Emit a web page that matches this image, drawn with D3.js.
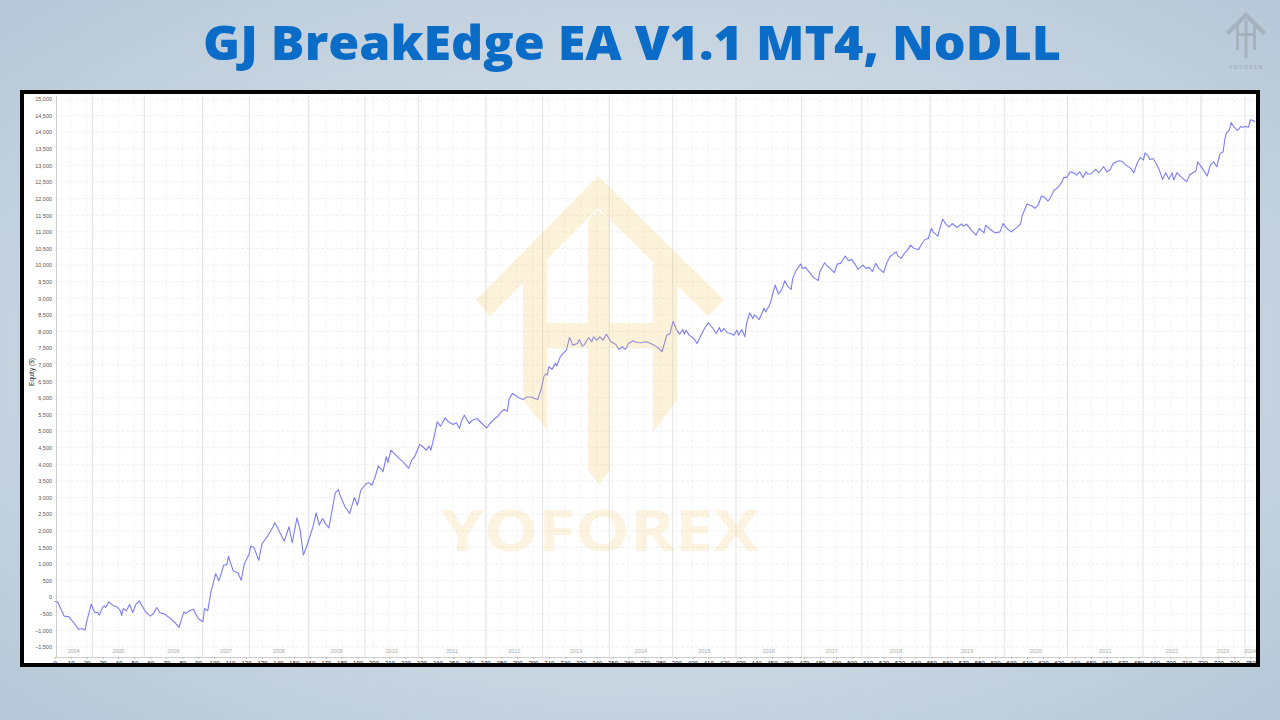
<!DOCTYPE html>
<html><head><meta charset="utf-8">
<script src="https://cdn.jsdelivr.net/npm/d3@7"></script>
<style>html,body{margin:0;padding:0;width:1280px;height:720px;overflow:hidden;background:#d5dee7}</style>
</head><body><svg id="c" width="1280" height="720"></svg>
<script>
// ---------- DATA ----------
const titleText = "GJ BreakEdge EA V1.1 MT4, NoDLL";
const yAxisLabel = "Equity ($)";
const equityPoints = [[0,-120],[2,-150],[4,-370],[6,-570],[9,-590],[12,-770],[15,-970],[17,-940],[19,-990],[20,-740],[23,-210],[25,-460],[27,-460],[28,-540],[30,-310],[31,-260],[32,-310],[34,-140],[37,-260],[39,-290],[40,-340],[41,-390],[42,-550],[43,-340],[45,-410],[47,-220],[49,-460],[51,-210],[53,-110],[57,-440],[60,-570],[62,-490],[64,-310],[66,-470],[69,-510],[72,-620],[75,-740],[78,-910],[81,-440],[82,-490],[84,-420],[87,-360],[90,-640],[93,-740],[94,-340],[96,-410],[98,160],[101,710],[103,490],[106,960],[108,980],[109,1230],[112,790],[115,730],[117,510],[119,1010],[122,1300],[123,1540],[125,1500],[128,1110],[130,1600],[131,1670],[134,1870],[137,2120],[138,2250],[141,1970],[144,1690],[147,2120],[149,1640],[152,2390],[154,2020],[156,1270],[158,1520],[160,1820],[162,2120],[164,2540],[166,2170],[168,2370],[170,2200],[172,2090],[174,2620],[176,3140],[178,3240],[179,3070],[182,2740],[185,2520],[188,3000],[190,2770],[192,3220],[195,3400],[197,3450],[199,3370],[201,3620],[203,3950],[206,3780],[208,4230],[209,4050],[211,4430],[214,4280],[216,4180],[219,4050],[222,3880],[224,4130],[226,4250],[229,4600],[231,4530],[233,4430],[235,4550],[236,4430],[238,4830],[240,5280],[242,5150],[245,5400],[247,5280],[250,5200],[252,5250],[254,5080],[255,5280],[257,5480],[260,5230],[262,5330],[265,5380],[268,5230],[271,5100],[273,5230],[276,5380],[278,5450],[280,5580],[282,5650],[284,5600],[285,5950],[287,6130],[289,6080],[292,5980],[294,5950],[296,6030],[299,6030],[301,5980],[303,5950],[305,6230],[307,6660],[308,6720],[309,6690],[310,6940],[312,6860],[314,7040],[315,6960],[317,7220],[319,7340],[321,7440],[323,7820],[325,7590],[328,7640],[329,7760],[331,7560],[332,7590],[335,7820],[337,7690],[338,7840],[340,7740],[342,7840],[344,7740],[346,7920],[349,7690],[352,7610],[354,7460],[356,7540],[358,7460],[360,7640],[363,7720],[365,7670],[368,7660],[371,7690],[374,7640],[377,7560],[379,7490],[381,7390],[384,7890],[386,7940],[388,8310],[390,8060],[392,7920],[394,8060],[395,7920],[396,8040],[398,7890],[401,7790],[403,7640],[406,7940],[408,8120],[410,8260],[413,8090],[415,7940],[417,8120],[418,7990],[420,8090],[422,7960],[424,7940],[426,7890],[428,8040],[429,7890],[431,8060],[433,7840],[434,8240],[436,8560],[438,8390],[439,8500],[442,8360],[445,8700],[446,8590],[448,8750],[449,8870],[452,9400],[454,9130],[456,9250],[458,9530],[460,9350],[462,9270],[463,9600],[465,9830],[468,10030],[469,9900],[471,9930],[474,9750],[476,9630],[479,9530],[480,9800],[483,10070],[484,10000],[486,9920],[489,9770],[491,10030],[493,10050],[494,10130],[496,10270],[498,10130],[500,10170],[502,10030],[504,9870],[507,10000],[509,9900],[511,9930],[513,9800],[515,10050],[517,9900],[520,9770],[522,10070],[524,10250],[526,10330],[527,10370],[528,10400],[529,10270],[531,10200],[533,10350],[535,10450],[537,10600],[539,10500],[542,10470],[544,10650],[546,10770],[548,10800],[550,11100],[551,11000],[554,10870],[557,11380],[559,11240],[561,11150],[563,11250],[566,11130],[569,11240],[570,11170],[572,11230],[575,11050],[578,10900],[580,11100],[583,10970],[584,11200],[587,11070],[590,10970],[593,11000],[595,11250],[597,11120],[600,11000],[604,11150],[606,11250],[607,11500],[610,11840],[613,11780],[615,11710],[617,11810],[619,12080],[621,12040],[623,11930],[624,11970],[627,12260],[628,12280],[630,12380],[632,12510],[633,12640],[635,12640],[637,12810],[640,12760],[641,12710],[643,12810],[645,12640],[647,12810],[648,12740],[650,12740],[653,12880],[655,12780],[658,12960],[660,12810],[662,12860],[664,13060],[666,13110],[668,13140],[670,13110],[672,13010],[675,12910],[677,12780],[679,13060],[681,13240],[683,13160],[684,13380],[686,13280],[687,13180],[689,13210],[691,13060],[693,12860],[695,12580],[697,12780],[699,12580],[701,12780],[702,12560],[704,12780],[707,12640],[710,12510],[712,12710],[714,12780],[716,12840],[717,13110],[720,12910],[723,12680],[725,13010],[727,13110],[729,12960],[731,13340],[733,13410],[734,13770],[735,13970],[737,14070],[738,14290],[740,14150],[742,14050],[744,14170],[745,14150],[747,14170],[749,14150],[750,14370],[752,14350],[753,14300]];
const yearLabels = ["2004","2005","2006","2007","2008","2009","2010","2011","2012","2013","2014","2015","2016","2017","2018","2019","2020","2021","2022","2023","2024"];
const yearStarts = [0,23.6,56.2,92.8,122.1,159.1,194.7,228.1,270.6,306.1,347.9,387.7,427.4,468.6,506.3,549.1,595.7,635.3,682.7,719,746.8];
const tradeMax = 753;
const yTicks = d3.range(-1500, 15001, 500);
const xTicks = d3.range(0, 751, 10);
const watermarkText = "YOFOREX";

// ---------- LAYOUT ----------
const svg = d3.select("#c");
const defs = svg.append("defs");
const rg = defs.append("radialGradient").attr("id","bg").attr("cx","50%").attr("cy","50%").attr("r","75%");
rg.append("stop").attr("offset","0%").attr("stop-color","#e6ecf1");
rg.append("stop").attr("offset","100%").attr("stop-color","#b3c5d6");
svg.append("rect").attr("width",1280).attr("height",720).attr("fill","url(#bg)");

// title
svg.append("text").attr("x",632).attr("y",60).attr("text-anchor","middle")
  .attr("font-family","'Open Sans', Roboto, sans-serif").attr("font-weight",800)
  .attr("font-size",48).attr("fill","#0b6cc8")
  .attr("textLength",858).attr("lengthAdjust","spacingAndGlyphs")
  .text(titleText);

// frame
svg.append("rect").attr("x",22).attr("y",92).attr("width",1236).attr("height",573).attr("fill","#fff");

const x = d3.scaleLinear().domain([0,tradeMax]).range([54.7,1255]);
const y = d3.scaleLinear().domain([-1800,15120]).range([657,95]);

const g = svg.append("g");
// horizontal grid
g.selectAll("line.hg").data(yTicks).join("line")
  .attr("x1",56).attr("x2",1255).attr("y1",d=>y(d)).attr("y2",d=>y(d))
  .attr("stroke","#ececec").attr("stroke-width",0.8).attr("stroke-dasharray","3,2");
// vertical grid
g.selectAll("line.vg").data(xTicks.filter(d=>d>0)).join("line")
  .attr("x1",d=>x(d)).attr("x2",d=>x(d)).attr("y1",95).attr("y2",657)
  .attr("stroke","#f0f0f0").attr("stroke-width",0.8).attr("stroke-dasharray","3,2");
// year lines
g.selectAll("line.yr").data(yearStarts.slice(1)).join("line")
  .attr("x1",d=>x(d)).attr("x2",d=>x(d)).attr("y1",95).attr("y2",657)
  .attr("stroke","#e2e2e2").attr("stroke-width",1);
// year labels
g.selectAll("text.yl").data(yearLabels).join("text")
  .attr("x",(d,i)=>x(((yearStarts[i]) + (i+1<yearStarts.length?yearStarts[i+1]:tradeMax))/2))
  .attr("y",653).attr("text-anchor","middle")
  .attr("font-family","Arial, 'Liberation Sans', sans-serif").attr("font-size",5.5).attr("fill","#aaa")
  .text(d=>d);

// axes
const yAxis = d3.axisLeft(y).tickValues(yTicks).tickSize(0).tickPadding(4).tickFormat(d3.format(","));
const ya = svg.append("g").attr("transform","translate(56,0)").call(yAxis);
ya.select(".domain").attr("stroke","#cfcfcf");
ya.selectAll("text").attr("font-size",5.5).attr("fill","#555").attr("font-family","Arial, 'Liberation Sans', sans-serif");

const xAxis = d3.axisBottom(x).tickValues(xTicks).tickSize(2).tickPadding(1.5).tickFormat(d3.format("d"));
const xa = svg.append("g").attr("transform","translate(0,657)").call(xAxis);
xa.select(".domain").attr("stroke","#cfcfcf");
xa.selectAll(".tick line").attr("stroke","#bbb");
xa.selectAll("text").attr("font-size",6).attr("fill","#222").attr("font-family","Arial, 'Liberation Sans', sans-serif");

svg.append("text").attr("transform","translate(34,372) rotate(-90)").attr("text-anchor","middle")
  .attr("font-family","Arial, 'Liberation Sans', sans-serif").attr("font-size",6.5).attr("fill","#333")
  .text(yAxisLabel);

// equity line
const line = d3.line().x(d=>x(d[0])).y(d=>y(d[1]));
svg.append("path").datum(equityPoints).attr("d",line)
  .attr("fill","none").attr("stroke","#7d7df8").attr("stroke-width",1.1).attr("stroke-linejoin","round");

// watermark (decorative logo)
const wm = svg.append("g").attr("fill","#f2c55c").attr("opacity",0.22);
wm.append("path").attr("d","M598,176 L724,300 L708,316 L598,208 L490,316 L476,300 Z");
wm.append("path").attr("d","M523,268 L547,244 L547,430 L523,400 Z");
wm.append("path").attr("d","M653,244 L677,268 L677,400 L653,432 Z");
wm.append("path").attr("d","M588,220 L598,210 L610,220 L610,470 L599,484 L588,470 Z");
wm.append("rect").attr("x",547).attr("y",323).attr("width",106).attr("height",25);
wm.append("text").attr("x",600).attr("y",551).attr("text-anchor","middle")
  .attr("font-family","'Open Sans', sans-serif").attr("font-weight",700).attr("font-size",58)
  .attr("textLength",318).attr("lengthAdjust","spacingAndGlyphs").attr("opacity",0.85).text(watermarkText);

// top-right small logo
const tl = svg.append("g").attr("fill","#9aa3ad").attr("opacity",0.6);
tl.append("path").attr("d","M1246,12 L1266,32 L1263,35 L1246,18 L1229,35 L1226,32 Z");
tl.append("rect").attr("x",1236).attr("y",24).attr("width",3).attr("height",26);
tl.append("rect").attr("x",1244.5).attr("y",20).attr("width",3).attr("height",38);
tl.append("rect").attr("x",1253).attr("y",24).attr("width",3).attr("height",26);
tl.append("rect").attr("x",1236).attr("y",33).attr("width",20).attr("height",3);
tl.append("text").attr("x",1246).attr("y",69).attr("text-anchor","middle").attr("font-size",6)
  .attr("font-family","'Open Sans', sans-serif").attr("font-weight",700).attr("letter-spacing",1).text(watermarkText);

// frame border on top
svg.append("rect").attr("x",22).attr("y",92).attr("width",1236).attr("height",573)
  .attr("fill","none").attr("stroke","#000").attr("stroke-width",4);
</script></body></html>
